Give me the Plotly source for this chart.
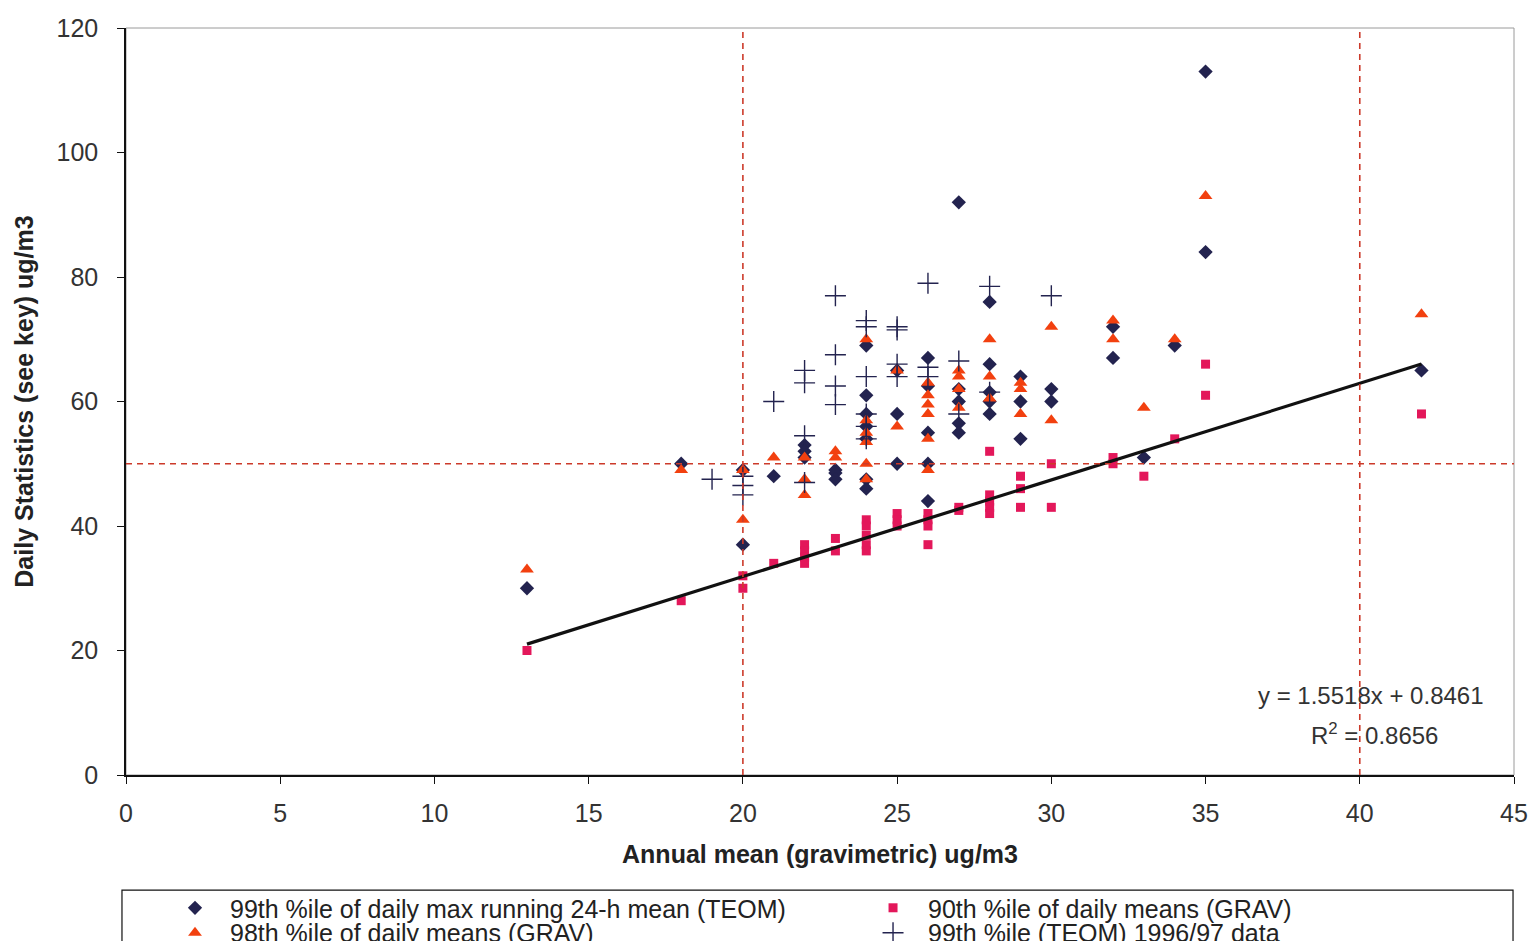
import numpy as np
import plotly.graph_objects as go

# ---- data ----
teom99_x = [13, 18, 20, 20, 21, 22, 22, 22, 23, 23, 23, 24, 24, 24, 24, 24, 24, 24,
            25, 25, 25, 26, 26, 26, 26, 26, 27, 27, 27, 27, 27, 28, 28, 28, 28, 28,
            29, 29, 29, 30, 30, 32, 32, 33, 34, 35, 35, 42]
teom99_y = [30, 50, 49, 37, 48, 53, 52, 51, 49, 48.5, 47.5, 69, 61, 58, 56, 54, 47.5, 46,
            65, 58, 50, 67, 62.5, 55, 50, 44, 92, 62, 60, 56.5, 55, 76, 66, 61.5, 60, 58,
            64, 60, 54, 62, 60, 72, 67, 51, 69, 113, 84, 65]

grav98_x = [13, 18, 20, 20, 21, 22, 22, 22, 23, 23, 24, 24, 24, 24, 24, 24,
            25, 25, 26, 26, 26, 26, 26, 26, 27, 27, 27, 27, 28, 28, 28,
            29, 29, 29, 30, 30, 32, 32, 33, 34, 35, 42]
grav98_y = [33, 49, 49, 41, 51, 51, 47.5, 45, 52, 51, 70, 57, 55, 53.5, 50, 47.5,
            65, 56, 63, 61, 59.5, 58, 54, 49, 65, 64, 62, 59, 70, 64, 60.5,
            63, 62, 58, 72, 57, 73, 70, 59, 70, 93, 74]

grav90_x = [13, 18, 20, 20, 21, 22, 22, 22, 22, 23, 23, 24, 24, 24, 24, 24,
            25, 25, 25, 26, 26, 26, 26, 27, 27, 28, 28, 28, 28, 28,
            29, 29, 29, 30, 30, 32, 32, 33, 34, 35, 35, 42]
grav90_y = [20, 28, 32, 30, 34, 37, 36, 35, 34, 38, 36, 41, 40, 38.5, 37, 36,
            42, 41, 40, 42, 41, 40, 37, 43, 42.5, 52, 45, 44, 43, 42,
            48, 46, 43, 50, 43, 51, 50, 48, 54, 66, 61, 58]

teom9697_x = [19, 20, 20, 20, 21, 22, 22, 22, 22, 23, 23, 23, 23,
              24, 24, 24, 24, 24, 24, 25, 25, 25, 25, 26, 26, 26, 27, 27, 28, 28, 30]
teom9697_y = [47.5, 48, 46.5, 45, 60, 65, 63, 54.5, 47, 77, 67.5, 62.5, 59.5,
              73, 72, 64, 58, 56, 54, 72, 71.5, 66, 64, 79, 65.5, 64, 66.5, 58, 78.5, 61.5, 77]

trend_slope = 1.5518
trend_intercept = 0.8461
trend_r2 = 0.8656

x_ticks = [0, 5, 10, 15, 20, 25, 30, 35, 40, 45]
y_ticks = [0, 20, 40, 60, 80, 100, 120]
limit_annual_x = [20, 40]
limit_daily_y = 50

names = ["99th %ile of daily max running 24-h mean (TEOM)",
         "90th %ile of daily means (GRAV)",
         "98th %ile of daily means (GRAV)",
         "99th %ile (TEOM) 1996/97 data"]

FONT = "Liberation Sans, Arial, sans-serif"
NAVY = "#23234f"
ORANGE = "#f2400f"
CRIMSON = "#e3175a"
DASH_RED = "#cc3a2a"

fig = go.Figure()

fig.add_trace(go.Scatter(x=teom99_x, y=teom99_y, mode="markers", name=names[0],
                         legend="legend",
                         marker=dict(symbol="diamond", size=11, color=NAVY)))
fig.add_trace(go.Scatter(x=grav98_x, y=grav98_y, mode="markers", name=names[2],
                         legend="legend2",
                         marker=dict(symbol="triangle-up", size=12, color=ORANGE)))
fig.add_trace(go.Scatter(x=grav90_x, y=grav90_y, mode="markers", name=names[1],
                         legend="legend3",
                         marker=dict(symbol="square", size=9, color=CRIMSON)))
fig.add_trace(go.Scatter(x=teom9697_x, y=teom9697_y, mode="markers", name=names[3],
                         legend="legend4",
                         marker=dict(symbol="cross-thin", size=15, color=NAVY,
                                     line=dict(width=1.4, color=NAVY))))

# trend line over the span of the GRAV data
tx = np.array([min(grav90_x), max(grav90_x)], dtype=float)
fig.add_trace(go.Scatter(x=tx, y=trend_slope * tx + trend_intercept, mode="lines",
                         showlegend=False, hoverinfo="skip",
                         line=dict(color="#111111", width=3.2)))

# dashed limit lines
for xv in limit_annual_x:
    fig.add_shape(type="line", xref="x", yref="y", x0=xv, x1=xv, y0=0, y1=120,
                  line=dict(color=DASH_RED, width=1.6, dash="6px,5px"))
fig.add_shape(type="line", xref="x", yref="y", x0=0, x1=45, y0=limit_daily_y, y1=limit_daily_y,
              line=dict(color=DASH_RED, width=1.6, dash="6px,5px"))

# plot-area frame (top/right lighter)
fig.add_shape(type="rect", xref="paper", yref="paper", x0=0, x1=1, y0=0, y1=1,
              line=dict(color="#9a9a9a", width=1), layer="below")

# legend box
fig.add_shape(type="rect", xref="paper", yref="paper", x0=-0.0029, x1=0.9993,
              y0=-0.30, y1=-0.154, line=dict(color="#111111", width=1.2), layer="below")

fig.add_annotation(xref="paper", yref="paper", x=0.8968, y=0.1070, showarrow=False,
                   text=f"y = {trend_slope}x + {trend_intercept}",
                   font=dict(family=FONT, size=24, color="#333333"), xanchor="center", yanchor="middle")
fig.add_annotation(xref="paper", yref="paper", x=0.8998, y=0.0546, showarrow=False,
                   text=f"R<sup>2</sup> = {trend_r2}",
                   font=dict(family=FONT, size=24, color="#333333"), xanchor="center", yanchor="middle")

legend_common = dict(orientation="v", xanchor="left", yanchor="top",
                     borderwidth=0, bgcolor="rgba(0,0,0,0)", itemwidth=60,
                     font=dict(family=FONT, size=25, color="#222222"))

COL1, COL2 = 0.0245, 0.5274
ROW1, ROW2 = -0.1473, -0.1807

fig.update_layout(
    width=1533, height=941,
    margin=dict(l=126, r=19, t=28, b=166, autoexpand=False),
    paper_bgcolor="white", plot_bgcolor="white",
    font=dict(family=FONT, size=25, color="#333333"),
    showlegend=True,
    legend=dict(x=COL1, y=ROW1, **legend_common),
    legend2=dict(x=COL1, y=ROW2, **legend_common),
    legend3=dict(x=COL2, y=ROW1, **legend_common),
    legend4=dict(x=COL2, y=ROW2, **legend_common),
)
fig.update_xaxes(range=[0, 45], tickvals=x_ticks, showgrid=False, zeroline=False,
                 showline=True, linecolor="#111111", linewidth=1.5,
                 ticks="outside", ticklen=7, tickcolor="#111111", ticklabelstandoff=8,
                 tickfont=dict(family=FONT, size=25, color="#333333"),
                 title=dict(text="<b>Annual mean (gravimetric) ug/m3</b>", standoff=20,
                            font=dict(family=FONT, size=25, color="#222222")))
fig.update_yaxes(range=[0, 120], tickvals=y_ticks, showgrid=False, zeroline=False,
                 showline=True, linecolor="#111111", linewidth=1.5,
                 ticks="outside", ticklen=7, tickcolor="#111111", ticklabelstandoff=14,
                 tickfont=dict(family=FONT, size=25, color="#333333"),
                 title=dict(text="<b>Daily Statistics (see key) ug/m3</b>", standoff=16,
                            font=dict(family=FONT, size=25, color="#222222")))

fig.write_html("out.html")
